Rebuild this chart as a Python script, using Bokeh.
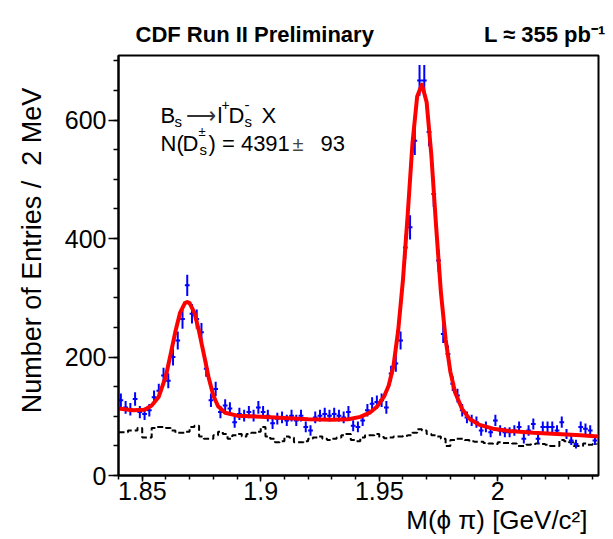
import numpy as np
from bokeh.plotting import figure
from bokeh.models import (ColumnDataSource, Label, SingleIntervalTicker,
                          CustomJSTickFormatter, Range1d, Title)
from bokeh.embed import file_html
from bokeh.resources import INLINE

# ---------------- data ----------------
bin_start = 1.840          # GeV/c^2, lower edge of first bin
bin_width = 0.002          # 2 MeV bins

counts = [127, 115, 112, 129, 107, 104, 110, 132, 143, 169,
          160, 200, 228, 264, 321, 273, 264, 242, 180, 127,
          146, 107, 118, 113, 90, 104, 101, 107, 101, 115,
          107, 101, 88, 96, 98, 93, 101, 93, 101, 82,
          76, 98, 101, 104, 101, 104, 101, 98, 107, 84,
          82, 93, 110, 121, 124, 127, 115, 172, 189, 228,
          385, 419, 565, 667, 667, 580, 475, 363, 239, 205,
          155, 135, 110, 98, 93, 90, 76, 82, 73, 93,
          76, 73, 73, 76, 82, 62, 76, 87, 62, 82,
          82, 82, 76, 90, 70, 59, 53, 82, 79, 76,
          59]

background = [73, 73, 76, 76, 80, 64, 64, 80, 82, 82,
              80, 76, 72, 72, 74, 82, 84, 66, 62, 62,
              68, 74, 70, 62, 68, 70, 66, 70, 72, 74,
              82, 66, 62, 56, 58, 66, 64, 56, 56, 58,
              62, 64, 66, 62, 60, 62, 64, 68, 70, 60,
              58, 64, 68, 68, 70, 65, 63, 64, 66, 66,
              67, 68, 72, 78, 76, 70, 68, 66, 62, 50,
              60, 62, 62, 60, 58, 57, 57, 55, 54, 53,
              56, 55, 55, 54, 50, 50, 52, 53, 54, 53,
              52, 50, 50, 60, 58, 56, 50, 50, 54, 52,
              53]

fit_mass = [1.840, 1.846, 1.851, 1.854, 1.857, 1.860, 1.862, 1.864, 1.866,
            1.868, 1.869, 1.870, 1.872, 1.874, 1.876, 1.878, 1.880, 1.882,
            1.885, 1.890, 1.900, 1.910, 1.920, 1.930, 1.937, 1.942, 1.946,
            1.949, 1.952, 1.954, 1.956, 1.958, 1.960, 1.962, 1.964, 1.966,
            1.968, 1.970, 1.972, 1.974, 1.976, 1.978, 1.980, 1.982, 1.985,
            1.988, 1.992, 1.998, 2.005, 2.015, 2.025, 2.035, 2.0425]
fit_value = [113, 110, 111, 118, 133, 168, 205, 243, 275,
             291, 293, 291, 275, 243, 205, 166, 135, 117,
             106, 101, 99, 97, 95, 94, 95, 99, 106,
             116, 133, 152, 185, 245, 330, 440, 560, 640,
             660, 630, 540, 420, 310, 230, 175, 140, 112,
             96, 86, 79, 75, 72, 70, 68, 66]

x_min, x_max = 1.840, 2.0425
y_min, y_max = 0, 709

NB = "\u00a0"
header_left = "CDF Run II Preliminary"
header_right = "L \u2248 355 pb\u207b\u00b9"
x_title = "M(\u03d5 \u03c0) [GeV/c\u00b2]"
y_title = "Number of Entries /" + NB + NB + "2 MeV"

# ---------------- derived columns ----------------
counts_arr = np.array(counts, dtype=float)
centers = bin_start + bin_width * (np.arange(len(counts)) + 0.5)
errors = np.sqrt(counts_arr)
pts = ColumnDataSource(dict(
    x=centers, y=counts_arr,
    x0=centers - bin_width / 2, x1=centers + bin_width / 2,
    y0=counts_arr - errors, y1=counts_arr + errors))

edges = bin_start + bin_width * np.arange(len(background) + 1)
bkg_y = list(background) + [background[-1]]

# ---------------- figure ----------------
FL, FR, FT, FB = 118, 15, 55, 64
W, H = 613, 539
p = figure(width=W, height=H, output_backend="svg", toolbar_location=None,
           x_range=Range1d(x_min, x_max), y_range=Range1d(y_min, y_max),
           min_border_left=FL, min_border_right=FR,
           min_border_top=FT, min_border_bottom=FB)
p.background_fill_color = "white"
p.border_fill_color = "white"
p.outline_line_color = "black"
p.outline_line_width = 2
p.xgrid.visible = False
p.ygrid.visible = False

FONT = "Liberation Sans"

p.xaxis.ticker = SingleIntervalTicker(interval=0.05, num_minor_ticks=5)
p.xaxis.formatter = CustomJSTickFormatter(
    code="return String(Number(tick.toFixed(2)));")
p.yaxis.ticker = SingleIntervalTicker(interval=200, num_minor_ticks=4)

for ax in (p.xaxis[0], p.yaxis[0]):
    ax.axis_line_color = "black"
    ax.axis_line_width = 2
    ax.major_tick_line_color = "black"
    ax.minor_tick_line_color = "black"
    ax.major_tick_line_width = 1.5
    ax.minor_tick_line_width = 1.5
    ax.major_tick_in = 0
    ax.minor_tick_in = 0
    ax.major_label_text_font = FONT
    ax.major_label_text_font_size = "25px"
    ax.major_label_text_color = "black"

p.xaxis.major_tick_out = 6
p.xaxis.minor_tick_out = 4
p.xaxis.major_label_standoff = 0
p.yaxis.major_tick_out = 10
p.yaxis.minor_tick_out = 5
p.yaxis.major_label_standoff = 2

# y axis title (rotated, left of tick labels)
p.yaxis.axis_label = NB * 4 + y_title
p.yaxis.axis_label_text_font = FONT
p.yaxis.axis_label_text_font_size = "27px"
p.yaxis.axis_label_text_font_style = "normal"
p.yaxis.axis_label_text_color = "black"
p.yaxis.axis_label_standoff = 15

# header line above the frame
head = header_left + NB * 18 + header_right
p.add_layout(Title(text=head, align="left", offset=17, standoff=18,
                   text_font=FONT, text_font_size="22px",
                   text_font_style="bold", text_color="black"), "above")

# x axis title, right aligned below the tick labels
p.add_layout(Title(text=x_title, align="right", offset=11, standoff=0,
                   text_font=FONT, text_font_size="26px",
                   text_font_style="normal", text_color="black"), "below")

# background (dashed histogram)
p.step(x=edges, y=bkg_y, mode="after", line_color="black",
       line_width=2, line_dash="6 3")

# data points with error bars
p.segment(x0="x0", y0="y", x1="x1", y1="y", source=pts,
          line_color="#0000ff", line_width=2)
p.segment(x0="x", y0="y0", x1="x", y1="y1", source=pts,
          line_color="#0000ff", line_width=2)

# fit curve
p.line(fit_mass, fit_value, line_color="#ff0000", line_width=4,
       line_join="round")

# ---------------- annotation inside the frame ----------------
def put(cx, cy, text, size, bold=False, color="black", align="left"):
    p.add_layout(Label(x=cx - FL, y=(H - FB) - cy, x_units="screen",
                       y_units="screen", text=text, text_font=FONT,
                       text_font_size=f"{size}px",
                       text_font_style="bold" if bold else "normal",
                       text_color=color, text_align=align,
                       text_baseline="alphabetic"))

# line 1: B_s -> l+ D_s- X
put(160, 115, "B", 22)
put(174, 121, "s", 15)
put(185, 115, "\u27f6", 21, color="#333333")
put(217, 115, "l", 22)
put(221, 104, "+", 14)
put(228, 115, "D", 22)
put(244, 104, "-", 15)
put(244, 121, "s", 15)
put(261, 115, "X", 22)

# line 2: N(D_s^+-) = 4391 +- 93
put(160, 143, "N(", 22)
put(182, 143, "D", 22)
put(198, 131, "\u00b1", 13)
put(199, 149, "s", 15)
put(208, 143, ") = 4391", 22)
put(292, 143, "\u00b1", 20, color="#444444")
put(320, 143, "93", 22)

open("out.html", "w").write(file_html(p, INLINE))
